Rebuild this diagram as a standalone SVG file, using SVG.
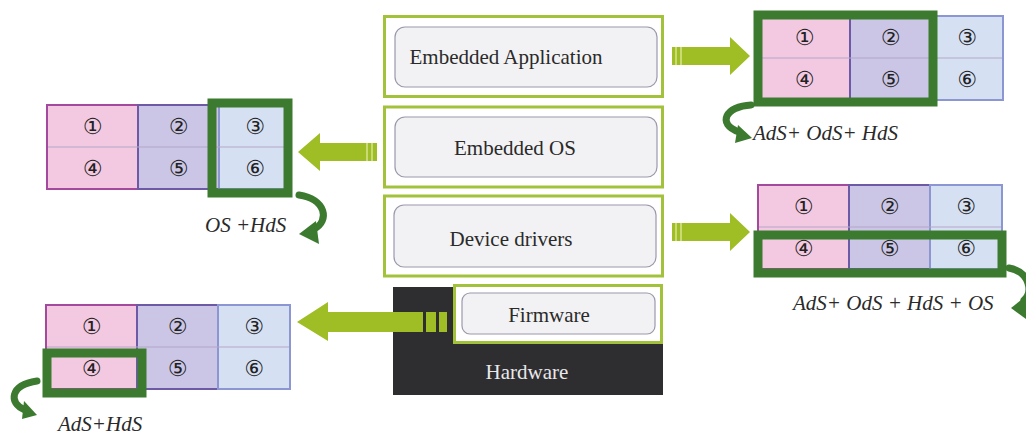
<svg xmlns="http://www.w3.org/2000/svg" width="1026" height="434" viewBox="0 0 1026 434">
<style>
.frame{fill:#ffffff;stroke:#a3c23c;stroke-width:3}
.inner{fill:#f2f2f4;stroke:#9a98ac;stroke-width:1.2}
.lbl{font-size:21px;fill:#2a2a2a;text-anchor:middle}
.it{font-size:21px;font-style:italic;fill:#2a2a2a}
.c1{fill:#f3c9e1;stroke:#a34a9e;stroke-width:2}
.c2{fill:#cbc6e6;stroke:#6c5aa6;stroke-width:2}
.c3{fill:#d6e0f3;stroke:#8c96d2;stroke-width:2}
.mid{stroke:#b4a6c8;stroke-width:1.2}
.num{font-size:22px;fill:#222;text-anchor:middle;dominant-baseline:central}
.sel{fill:none;stroke:#3b7a2f;stroke-width:9}
.big{fill:#9fbd24}
.stripe{stroke:#d8e690;stroke-width:1.5}
.curve{fill:none;stroke:#3b7a2f;stroke-width:7;stroke-linecap:round}
.head{fill:#3b7a2f}
</style>
<defs>
<g id="grid" font-family="'DejaVu Sans', sans-serif">
<rect class="c1" x="0" y="0" width="91" height="84"/>
<rect class="c2" x="91" y="0" width="81" height="84"/>
<rect class="c3" x="172" y="0" width="72" height="84"/>
<line class="mid" x1="1" y1="42" x2="243" y2="42"/>
<text class="num" x="45.5" y="21">①</text>
<text class="num" x="131.5" y="21">②</text>
<text class="num" x="208" y="21">③</text>
<text class="num" x="45.5" y="63">④</text>
<text class="num" x="131.5" y="63">⑤</text>
<text class="num" x="208" y="63">⑥</text>
</g>
</defs>
<rect width="1026" height="434" fill="#ffffff"/>

<g font-family="'Liberation Serif', 'Times New Roman', 'DejaVu Serif', serif">
<g id="app">
<rect class="frame" x="384.5" y="16.5" width="278" height="80"/>
<rect class="inner" x="395" y="27" width="262" height="60" rx="10"/>
<text class="lbl" x="506" y="64">Embedded Application</text>
</g>
<g id="os">
<rect class="frame" x="384.5" y="107" width="278" height="80"/>
<rect class="inner" x="395" y="117" width="262" height="60" rx="10"/>
<text class="lbl" x="515" y="155">Embedded OS</text>
</g>
<g id="drivers">
<rect class="frame" x="384.5" y="196" width="278" height="80"/>
<rect class="inner" x="394" y="205" width="262" height="62" rx="10"/>
<text class="lbl" x="511" y="246">Device drivers</text>
</g>
<g id="hardware">
<rect x="393" y="287" width="270" height="108" fill="#2e2d30"/>
<text class="lbl" x="527" y="379" style="fill:#e8e8ea">Hardware</text>
</g>
<g id="firmware">
<rect class="frame" x="454.5" y="285.5" width="207" height="57"/>
<rect class="inner" x="462" y="293" width="193" height="41" rx="8"/>
<text class="lbl" x="549" y="322">Firmware</text>
</g>
</g>

<g id="grid-app" transform="translate(759,16)">
<use href="#grid"/>
<rect class="sel" x="-1" y="-1" width="175" height="87"/>
</g>
<g id="grid-os" transform="translate(47,105)">
<use href="#grid"/>
<rect class="sel" x="165" y="-2" width="76" height="90"/>
</g>
<g id="grid-drivers" transform="translate(758,185)">
<use href="#grid"/>
<rect class="sel" x="0" y="50" width="244" height="38"/>
</g>
<g id="grid-firmware" transform="translate(46,305)">
<use href="#grid"/>
<rect class="sel" x="1" y="48" width="95" height="40"/>
</g>

<g id="connectors">
<polygon class="big" points="672,47 730,47 730,37 750,56 730,75 730,65 672,65"/>
<line class="stripe" x1="676" y1="47" x2="676" y2="65"/>
<line class="stripe" x1="681" y1="47" x2="681" y2="65"/>
<polygon class="big" points="672,223 730,223 730,213 750,232 730,251 730,241 672,241"/>
<line class="stripe" x1="676" y1="223" x2="676" y2="241"/>
<line class="stripe" x1="681" y1="223" x2="681" y2="241"/>
<polygon class="big" points="377,143 320,143 320,133 298,152 320,171 320,161 377,161"/>
<line class="stripe" x1="367" y1="143" x2="367" y2="161"/>
<line class="stripe" x1="372" y1="143" x2="372" y2="161"/>
<polygon class="big" points="447,312 328,312 328,302 297,322 328,341 328,332 447,332"/>
<rect x="423" y="312" width="3" height="20" fill="#2e2d30"/>
<rect x="436" y="312" width="3" height="20" fill="#2e2d30"/>

<path class="curve" d="M 751 105 C 726 106 716 124 739 132"/>
<polygon class="head" points="752,138 738,125 735,143"/>
<path class="curve" d="M 299 195 C 326 199 330 221 314 229"/>
<polygon class="head" points="299,234 316,221 319,244"/>
<path class="curve" d="M 37 381 C 10 385 8 403 25 410"/>
<polygon class="head" points="37,415 24,401 22,419"/>
<path class="curve" d="M 1009 268 C 1030 272 1033 292 1024 300"/>
<polygon class="head" points="1011,308 1026,296 1026,319"/>
</g>

<g id="labels" font-family="'Liberation Serif', 'Times New Roman', 'DejaVu Serif', serif">
<text class="it" x="753" y="140">AdS+ OdS+ HdS</text>
<text class="it" x="205" y="232">OS +HdS</text>
<text class="it" x="793" y="310">AdS+ OdS + HdS + OS</text>
<text class="it" x="58" y="431">AdS+HdS</text>
</g>
</svg>
